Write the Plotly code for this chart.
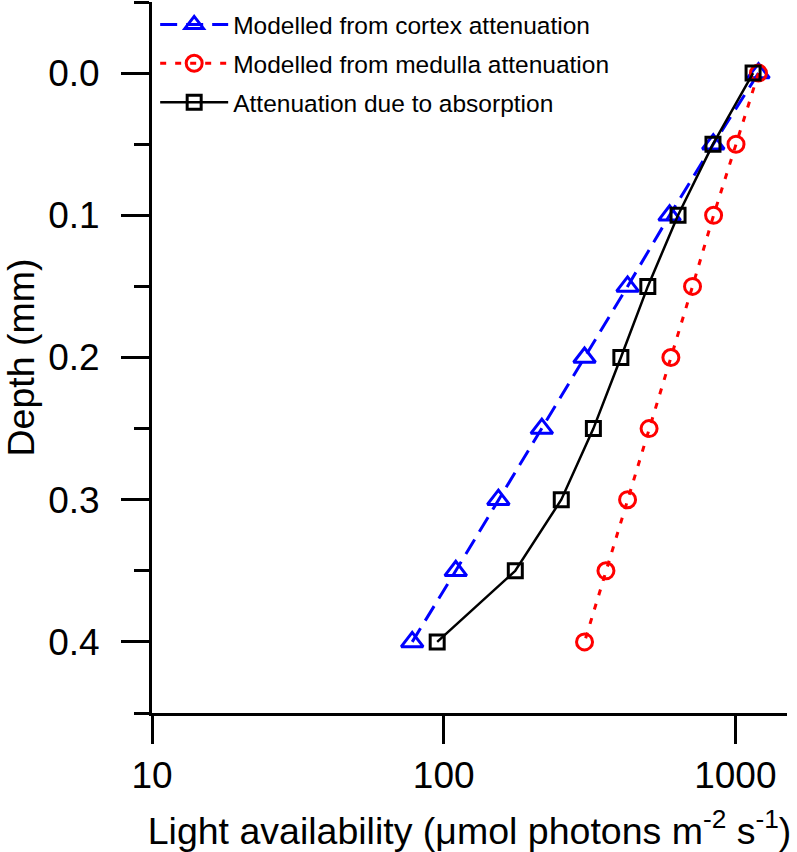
import plotly.graph_objects as go

# Data
depth_mm = [0.0, 0.05, 0.10, 0.15, 0.20, 0.25, 0.30, 0.35, 0.40]
cortex_model = [1200, 840, 595, 427, 304, 217, 154, 110, 78]
medulla_model = [1200, 1005, 842, 713, 601, 506, 427, 360, 304]
absorption = [1150, 838, 636, 501, 405, 326, 253, 176, 95]

series_names = [
    "Modelled from cortex attenuation",
    "Modelled from medulla attenuation",
    "Attenuation due to absorption",
]

x_tick_vals = [10, 100, 1000]
x_tick_text = ["10", "100", "1000"]

FONT = "Liberation Sans, Arial, sans-serif"

fig = go.Figure()

fig.add_trace(go.Scatter(
    x=cortex_model, y=depth_mm, mode="lines+markers", name=series_names[0],
    legendgroup="a",
    line=dict(color="#0000FF", width=3, dash="17px,9px"),
    marker=dict(symbol="triangle-up-open", size=19, color="#0000FF",
                line=dict(width=3, color="#0000FF")),
))
fig.add_trace(go.Scatter(
    x=medulla_model, y=depth_mm, mode="lines+markers", name=series_names[1],
    legendgroup="b",
    line=dict(color="#FF0000", width=3, dash="6px,9px"),
    marker=dict(symbol="circle-open", size=16, color="#FF0000",
                line=dict(width=3, color="#FF0000")),
))
fig.add_trace(go.Scatter(
    x=absorption, y=depth_mm, mode="lines+markers", name=series_names[2],
    legendgroup="c",
    line=dict(color="#000000", width=2.5),
    marker=dict(symbol="square-open", size=14, color="#000000",
                line=dict(width=3, color="#000000")),
))

fig.update_layout(
    width=797, height=852,
    margin=dict(l=152, r=10, t=2, b=139),
    paper_bgcolor="white", plot_bgcolor="white",
    font=dict(family=FONT, color="black"),
    showlegend=True,
    legend=dict(
        x=0.005, y=1.0, xanchor="left", yanchor="top",
        bgcolor="rgba(0,0,0,0)", font=dict(size=24.5, family=FONT),
        tracegroupgap=4, traceorder="grouped", itemwidth=68,
    ),
    xaxis=dict(
        type="log", range=[1, 3.177],
        tickvals=x_tick_vals, ticktext=x_tick_text,
        ticks="outside", ticklen=28, tickwidth=3, tickcolor="black",
        showline=True, linewidth=3, linecolor="black",
        showgrid=False, zeroline=False,
        tickfont=dict(size=37, family=FONT),
        ticklabelstandoff=0,
        title=dict(text="Light availability (μmol photons m<sup>-2</sup> s<sup>-1</sup>)",
                   font=dict(size=37.5, family=FONT), standoff=26),
        automargin=False,
    ),
    yaxis=dict(
        range=[0.45, -0.05],
        tick0=0, dtick=0.1, tickformat=".1f",
        ticks="outside", ticklen=28, tickwidth=3, tickcolor="black",
        minor=dict(dtick=0.05, tick0=0, ticks="outside", ticklen=15,
                   tickwidth=3, tickcolor="black", showgrid=False),
        showline=True, linewidth=3, linecolor="black",
        showgrid=False, zeroline=False,
        tickfont=dict(size=37, family=FONT),
        ticklabelstandoff=14,
        title=dict(text="Depth (mm)", font=dict(size=37.5, family=FONT), standoff=5),
        automargin=False,
    ),
)

fig.write_html("out.html", config={"displayModeBar": False},
               post_script="document.body.style.margin='0px';")
